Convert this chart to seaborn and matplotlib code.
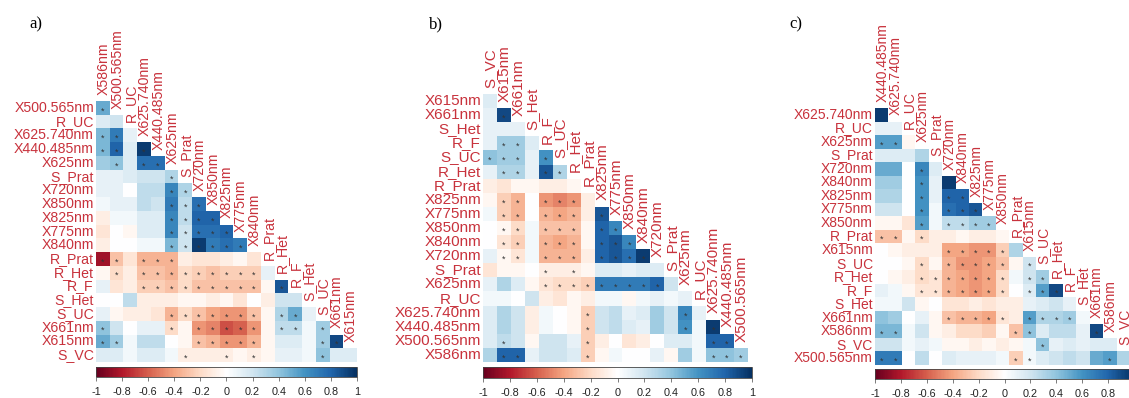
import numpy as np
import matplotlib
matplotlib.use("Agg")
import matplotlib.pyplot as plt
from matplotlib.colors import LinearSegmentedColormap
from matplotlib import font_manager
import seaborn as sns

sns.set_style("white")
plt.rcParams['font.family'] = ['Liberation Sans', 'DejaVu Sans']
plt.rcParams['axes.unicode_minus'] = False

# ---------------- data ----------------
labels_a = ["X586nm", "X500.565nm", "R_UC", "X625.740nm", "X440.485nm", "X625nm", "S_Prat",
            "X720nm", "X850nm", "X825nm", "X775nm", "X840nm", "R_Prat", "R_Het", "R_F",
            "S_Het", "S_UC", "X661nm", "X615nm", "S_VC"]
vals_a = [
    [0.5],
    [0.15, 0.2],
    [0.45, 0.7, 0.1],
    [0.45, 0.8, 0.15, 0.95],
    [0.35, 0.4, 0.15, 0.75, 0.75],
    [0.1, 0.1, 0.15, 0.2, 0.2, 0.3],
    [0.1, 0.1, 0.0, 0.25, 0.25, 0.65, 0.3],
    [0.05, 0.1, 0.1, 0.25, 0.2, 0.7, 0.25, 0.75],
    [-0.1, 0.05, 0.05, 0.15, 0.15, 0.65, 0.25, 0.8, 0.8],
    [-0.15, 0.0, -0.05, 0.15, 0.15, 0.65, 0.2, 0.75, 0.75, 0.8],
    [-0.1, 0.0, 0.0, 0.05, 0.05, 0.45, 0.2, 0.95, 0.7, 0.75, 0.7],
    [-0.85, -0.3, -0.15, -0.35, -0.35, -0.35, -0.1, -0.15, -0.15, -0.1, -0.05, -0.15],
    [-0.05, -0.2, -0.1, -0.3, -0.3, -0.35, -0.2, -0.25, -0.3, -0.25, -0.25, -0.25, 0.1],
    [0.1, -0.15, -0.1, -0.25, -0.25, -0.3, -0.2, -0.3, -0.3, -0.3, -0.3, -0.3, -0.05, 0.85],
    [0.0, 0.0, 0.25, -0.1, -0.1, -0.1, -0.05, -0.05, -0.1, -0.05, -0.15, 0.0, -0.1, 0.2, 0.2],
    [0.1, -0.05, -0.1, -0.1, -0.15, -0.35, -0.2, -0.3, -0.4, -0.45, -0.45, -0.3, -0.05, 0.3, 0.5, 0.1],
    [0.4, 0.2, 0.0, 0.1, 0.1, -0.2, -0.05, -0.45, -0.5, -0.65, -0.6, -0.45, -0.05, 0.25, 0.25, 0.05, 0.35],
    [0.5, 0.35, 0.05, 0.25, 0.25, 0.0, -0.05, -0.3, -0.35, -0.45, -0.45, -0.35, -0.05, 0.15, 0.15, 0.05, 0.35, 0.9],
    [0.15, 0.15, 0.05, 0.15, 0.15, 0.05, -0.1, -0.1, -0.1, -0.1, -0.05, -0.1, -0.05, 0.1, 0.1, 0.05, 0.4, 0.15, 0.15],
]
stars_a = [[0], [], [0, 1], [0, 1, 3], [1, 3, 4], [5], [5, 6], [5, 6, 7], [5, 6, 7, 8],
           [5, 6, 7, 8, 9], [5, 6, 7, 8, 9, 10], [0, 1, 3, 4, 5],
           [1, 3, 4, 5, 6, 7, 8, 9, 10, 11], [3, 4, 5, 6, 7, 8, 9, 10, 11, 13], [],
           [5, 6, 7, 8, 9, 10, 11, 13, 14], [0, 5, 7, 8, 9, 10, 11, 13, 14, 16],
           [0, 1, 7, 8, 9, 10, 11, 16, 17], [6, 9, 11, 16]]

labels_b = ["S_VC", "X615nm", "X661nm", "S_Het", "R_F", "S_UC", "R_Het", "R_Prat", "X825nm",
            "X775nm", "X850nm", "X840nm", "X720nm", "S_Prat", "X625nm", "R_UC", "X625.740nm",
            "X440.485nm", "X500.565nm", "X586nm"]
vals_b = [
    [0.15],
    [0.1, 0.9],
    [0.1, 0.1, 0.1],
    [0.1, 0.35, 0.35, 0.15],
    [0.4, 0.35, 0.35, 0.1, 0.6],
    [0.1, 0.3, 0.3, 0.1, 0.85, 0.3],
    [-0.1, -0.15, -0.05, -0.05, -0.1, -0.1, -0.05],
    [-0.05, -0.25, -0.35, 0.0, -0.45, -0.5, -0.45, -0.1],
    [0.05, -0.25, -0.35, 0.0, -0.35, -0.4, -0.35, -0.1, 0.85],
    [0.0, -0.05, -0.2, 0.05, -0.3, -0.3, -0.3, -0.05, 0.8, 0.65],
    [0.0, -0.15, -0.25, 0.05, -0.35, -0.4, -0.35, -0.05, 0.8, 0.85, 0.65],
    [0.1, -0.05, -0.15, 0.05, -0.35, -0.35, -0.35, -0.1, 0.8, 0.85, 0.75, 0.95],
    [-0.15, -0.05, -0.05, 0.0, -0.1, -0.1, -0.1, -0.05, 0.15, 0.15, 0.1, 0.15, 0.15],
    [0.1, 0.3, 0.15, -0.05, -0.15, -0.2, -0.2, -0.25, 0.7, 0.7, 0.7, 0.7, 0.8, 0.2],
    [0.05, 0.05, 0.0, 0.2, -0.1, -0.15, -0.05, -0.1, 0.05, 0.05, -0.05, 0.05, 0.1, 0.05, 0.1],
    [0.15, 0.3, 0.2, -0.1, 0.05, 0.0, -0.05, -0.25, 0.2, 0.25, 0.1, 0.15, 0.35, 0.2, 0.65, 0.1],
    [0.15, 0.3, 0.2, -0.1, 0.05, 0.0, -0.05, -0.25, 0.2, 0.25, 0.15, 0.1, 0.35, 0.2, 0.6, 0.05, 0.95],
    [0.15, 0.25, 0.2, -0.05, 0.2, 0.2, 0.1, -0.25, -0.1, 0.0, -0.15, -0.1, 0.0, 0.15, 0.15, 0.05, 0.8, 0.8],
    [0.3, 0.8, 0.8, 0.1, 0.2, 0.2, 0.15, -0.25, -0.05, 0.05, 0.0, 0.0, 0.1, -0.05, 0.35, 0.05, 0.4, 0.4, 0.35],
]
stars_b = [[], [1], [], [1, 2], [0, 1, 2, 4], [1, 2, 4, 5], [], [1, 2, 4, 5, 6],
           [1, 2, 4, 5, 6, 8], [1, 2, 4, 5, 6, 8, 9], [1, 2, 4, 5, 6, 8, 9, 10],
           [1, 2, 4, 5, 6, 8, 9, 10, 11], [4, 6], [4, 5, 6, 7, 8, 9, 10, 11, 12], [],
           [7, 14], [7, 14, 16], [1, 7, 16, 17], [1, 2, 7, 16, 17, 18]]

labels_c = ["X440.485nm", "X625.740nm", "R_UC", "X625nm", "S_Prat", "X720nm", "X840nm",
            "X825nm", "X775nm", "X850nm", "R_Prat", "X615nm", "S_UC", "R_Het", "R_F",
            "S_Het", "X661nm", "X586nm", "S_VC", "X500.565nm"]
vals_c = [
    [0.95],
    [0.1, 0.1],
    [0.55, 0.55, -0.05],
    [0.15, 0.15, 0.15, 0.3],
    [0.5, 0.5, 0.0, 0.65, 0.15],
    [0.35, 0.35, 0.0, 0.6, 0.1, 0.95],
    [0.3, 0.3, 0.0, 0.6, 0.1, 0.8, 0.8],
    [0.2, 0.2, 0.0, 0.6, 0.05, 0.75, 0.8, 0.85],
    [-0.05, -0.05, -0.15, 0.55, 0.05, 0.25, 0.25, 0.35, 0.35],
    [-0.3, -0.3, -0.05, -0.2, -0.1, -0.1, -0.05, -0.1, -0.1, -0.05],
    [0.0, -0.05, -0.1, -0.1, -0.1, -0.4, -0.4, -0.45, -0.45, -0.25, 0.3],
    [0.0, 0.0, -0.05, -0.2, -0.05, -0.35, -0.45, -0.45, -0.4, -0.3, -0.05, 0.2],
    [0.0, -0.05, -0.1, -0.2, -0.15, -0.35, -0.4, -0.45, -0.4, -0.2, 0.05, 0.2, 0.35],
    [0.1, 0.05, -0.05, -0.15, -0.15, -0.35, -0.4, -0.45, -0.4, -0.2, 0.0, 0.15, 0.55, 0.9],
    [0.05, 0.05, 0.2, -0.05, 0.0, -0.15, -0.15, -0.1, -0.15, -0.1, -0.1, 0.1, 0.15, 0.2, 0.1],
    [0.4, 0.35, 0.0, 0.1, -0.05, -0.3, -0.35, -0.35, -0.4, -0.15, -0.1, 0.55, 0.3, 0.3, 0.35, 0.05],
    [0.45, 0.45, 0.05, 0.2, -0.05, -0.1, -0.2, -0.2, -0.25, -0.05, -0.3, 0.4, 0.15, 0.25, 0.25, 0.1, 0.9],
    [0.2, 0.2, 0.05, 0.1, 0.05, -0.05, -0.05, -0.1, -0.05, -0.1, -0.05, 0.05, 0.4, 0.1, 0.15, 0.1, 0.15, 0.15],
    [0.7, 0.7, 0.0, 0.25, 0.0, 0.15, 0.1, 0.1, 0.1, 0.05, -0.25, 0.05, 0.15, 0.2, 0.25, 0.2, 0.5, 0.55, 0.3],
]
stars_c = [[], [], [0, 1], [], [3], [3], [3, 5, 6], [3, 5, 6, 7], [3, 5, 6, 7, 8], [0, 1, 3],
           [5, 6, 7, 8, 9], [3, 5, 6, 7, 8, 9, 11], [3, 4, 5, 6, 7, 8, 9, 11, 12],
           [3, 4, 5, 6, 7, 8, 9, 11, 12, 13], [], [5, 6, 7, 8, 9, 11, 12, 13, 14],
           [0, 1, 10, 11, 16], [12], [0, 1, 10, 11, 17]]

panel_tags = ["a)", "b)", "c)"]
cbar_ticks = [-1, -0.8, -0.6, -0.4, -0.2, 0, 0.2, 0.4, 0.6, 0.8, 1]

# ---------------- style ----------------
cmap = LinearSegmentedColormap.from_list(
    "corr", ["#67001F", "#B2182B", "#D6604D", "#F4A582", "#FDDBC7", "#FFFFFF",
             "#D1E5F0", "#92C5DE", "#4393C3", "#2166AC", "#053061"], N=200)
LABEL_COLOR = "#C8323C"
W, H = 1129, 398

installed = {f.name for f in font_manager.fontManager.ttflist}
if "Liberation Sans Narrow" in installed:
    CB_FONT, CB_SIZE = ["Liberation Sans Narrow", "DejaVu Sans"], 8.5
else:
    CB_FONT, CB_SIZE = ["Liberation Sans", "DejaVu Sans"], 7.8

fig = plt.figure(figsize=(W / 100, H / 100), dpi=100)


def px_axes(x0, y0, x1, y1):
    return fig.add_axes([x0 / W, 1 - y1 / H, (x1 - x0) / W, (y1 - y0) / H])


panels = [
    dict(labels=labels_a, vals=vals_a, stars=stars_a, box=(96, 101, 357, 362),
         cbox=(96, 367, 357, 377), tag_xy=(36, 24), fs=10.2),
    dict(labels=labels_b, vals=vals_b, stars=stars_b, box=(483, 94, 748, 362),
         cbox=(483, 367, 752, 378), tag_xy=(436, 24), fs=11.0),
    dict(labels=labels_c, vals=vals_c, stars=stars_c, box=(875, 108, 1130, 365),
         cbox=(875, 369, 1134, 379), tag_xy=(796, 24), fs=10.0),
]

for k, p in enumerate(panels):
    labs = p["labels"]
    n = len(labs) - 1
    M = np.full((n, n), np.nan)
    A = np.full((n, n), "", dtype=object)
    for i, row in enumerate(p["vals"]):
        M[i, :len(row)] = row
        for j in p["stars"][i]:
            A[i, j] = "*"
    ax = px_axes(*p["box"])
    sns.heatmap(M, ax=ax, cmap=cmap, vmin=-1, vmax=1, cbar=False, annot=A, fmt="",
                annot_kws=dict(size=6.5, color="#333333"), xticklabels=False,
                yticklabels=False, linewidths=0)
    for t in ax.texts:
        x, y = t.get_position()
        t.set_position((x, y + 0.22))
    ax.set_xticks([])
    ax.set_yticks([])
    for s in ax.spines.values():
        s.set_visible(False)
    # row labels (left)
    for i in range(n):
        ax.text(-0.15, i + 0.5, labs[i + 1], ha="right", va="center", fontsize=p["fs"],
                color=LABEL_COLOR, clip_on=False)
    # column labels along the diagonal
    for j in range(n):
        ax.text(j + 0.55, j - 0.45, labs[j], ha="center", va="bottom", rotation=90,
                fontsize=p["fs"], color=LABEL_COLOR, clip_on=False)
    # colorbar
    cax = px_axes(*p["cbox"])
    cb = fig.colorbar(ax.collections[0], cax=cax, orientation="horizontal", ticks=cbar_ticks)
    cb.ax.set_xticklabels([f"{v:g}" for v in cbar_ticks], family=CB_FONT)
    cb.ax.tick_params(axis="x", direction="out", length=3, width=0.6, color="#666666",
                      labelsize=CB_SIZE, labelcolor="#222222", pad=4)
    cb.outline.set_linewidth(0.6)
    cb.outline.set_edgecolor("#444444")
    tx, ty = p["tag_xy"]
    fig.text(tx / W, 1 - ty / H, panel_tags[k], ha="center", va="center",
             fontsize=12, family=["Liberation Serif", "DejaVu Serif"], color="black")

fig.savefig("out.png", dpi=100)
